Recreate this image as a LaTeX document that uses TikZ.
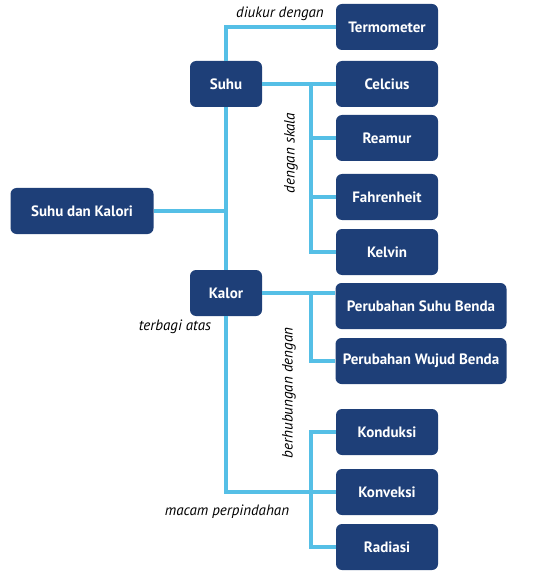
\documentclass[tikz,border=0pt]{standalone}
\usepackage{fontspec}
\setmainfont{PT Sans}
\definecolor{boxblue}{HTML}{1E3F78}
\definecolor{linkblue}{HTML}{55BFE6}
\begin{document}
\begin{tikzpicture}[x=1pt,y=-1pt,
	box/.style={draw=none,fill=boxblue,text=white,font=\bfseries\fontsize{15}{17}\selectfont,rounded corners=6pt,minimum width=102pt,minimum height=46pt,inner sep=0pt},
	link/.style={draw=linkblue,line width=3.4pt},
	lbl/.style={font=\itshape\fontsize{15}{17}\selectfont,inner sep=0pt}]
		\useasboundingbox (0,0) rectangle (550,577);
		
		\node[box,minimum width=143pt] (sdk) at (82,211) {Suhu dan Kalori};
		\node[box,minimum width=72pt] (suhu) at (226,84) {Suhu};
		\node[box,minimum width=72pt] (kalor) at (226,293) {Kalor};
		
		\node[box] (term) at (387,27) {Termometer};
		\node[box] (celc) at (387,84) {Celcius};
		\node[box] (ream) at (387,138) {Reamur};
		\node[box] (fahr) at (387,197) {Fahrenheit};
		\node[box] (kelv) at (387,252) {Kelvin};
		
		\node[box,minimum width=171pt] (psb) at (421,306) {Perubahan Suhu Benda};
		\node[box,minimum width=171pt] (pwb) at (421,361) {Perubahan Wujud Benda};
		
		\node[box] (kond) at (387,432) {Konduksi};
		\node[box] (konv) at (387,492) {Konveksi};
		\node[box] (radi) at (387,547) {Radiasi};
		
		\coordinate (top) at (226,27); \coordinate (skala) at (311,84);
		\coordinate (hub) at (311,293); \coordinate (pind) at (311,492);
		
		\draw[link] (term.west) -- (top) -- (suhu.north);
		\draw[link] (suhu.south) -- (kalor.north);
		\draw[link] (sdk.east) -- (sdk.east -| suhu.south);
		\draw[link] (suhu.east) -- (celc.west);
		\foreach \n in {ream,fahr,kelv} \draw[link] (skala) |- (\n.west);
		\draw[link] (kalor.east) -- (kalor.east -| psb.west);
		\draw[link] (hub) |- (pwb.west);
		\draw[link] (kalor.south) |- (konv.west);
		\draw[link] (kond.west) -| (pind) |- (radi.west);
		
		\node[lbl] (ukur) at (280,14) {diukur dengan};
		\node[lbl,rotate=90] (skl) at (291,153) {dengan skala};
		\node[lbl] (bagi) at (175,327) {terbagi atas};
		\node[lbl,rotate=90] (hubl) at (289,393) {berhubungan dengan};
		\node[lbl] (macam) at (227,512) {macam perpindahan};
		\end{tikzpicture}
\end{document}
